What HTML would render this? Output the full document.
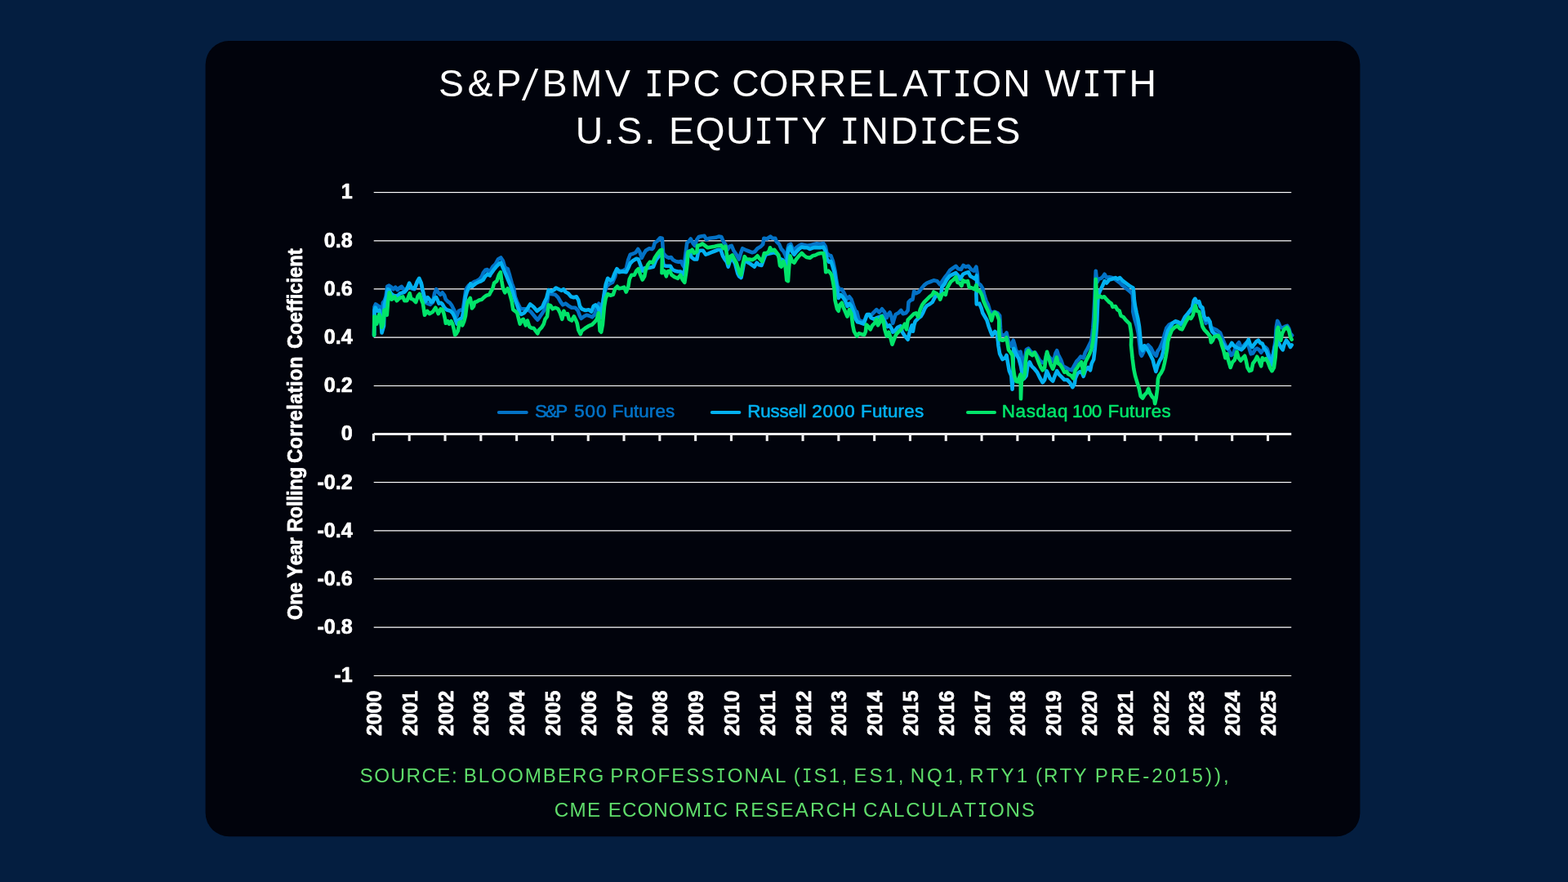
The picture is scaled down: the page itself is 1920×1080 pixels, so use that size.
<!DOCTYPE html>
<html lang="en">
<head>
<meta charset="utf-8">
<title>S&amp;P/BMV IPC Correlation with U.S. Equity Indices</title>
<style>
html,body{margin:0;padding:0;background:#041e40;}
body{width:1920px;height:1080px;overflow:hidden;position:relative;font-family:"Liberation Sans",sans-serif;}
svg{position:absolute;left:0;top:0;display:block;}
text{font-kerning:none;}
.title{font-family:"Liberation Sans",sans-serif;fill:#fff;}
.src{font-family:"Liberation Sans",sans-serif;fill:#5fdc6b;}
.ylab{font-family:"Liberation Sans",sans-serif;font-weight:700;font-size:25.2px;fill:#fff;text-anchor:end;stroke:#fff;stroke-width:0.7px;stroke-linejoin:round;}
.xlab{font-family:"Liberation Sans",sans-serif;font-weight:700;font-size:25.7px;fill:#fff;stroke:#fff;stroke-width:0.7px;stroke-linejoin:round;}
.ytitle{font-family:"Liberation Sans",sans-serif;font-weight:700;font-size:26.2px;fill:#fff;stroke:#fff;stroke-width:0.7px;stroke-linejoin:round;}
.leg{font-family:"Liberation Sans",sans-serif;font-weight:400;stroke-width:0.6px;stroke-linejoin:round;}
.ser{fill:none;stroke-width:4.6;stroke-linejoin:round;stroke-linecap:round;}
</style>
</head>
<body>
<svg width="1920" height="1080" viewBox="0 0 1920 1080">
<rect x="251.6" y="50.1" width="1413.8" height="974.2" rx="29" ry="29" fill="#01030c"/>

<text class="title" font-size="46.3" x="537.07 572.43 607.41 636.90 663.68 698.64 741.03 775.64 788.92 815.36 848.39 882.91 896.29 929.50 966.81 1002.66 1038.65 1073.72 1105.36 1135.87 1166.22 1190.35 1228.27 1263.14 1279.15 1324.97 1350.67 1382.45" y="118.20 118.20 118.20 122.76 118.20 118.20 118.20 118.20 118.20 118.20 118.20 118.20 118.20 118.20 118.20 118.20 118.20 118.20 118.20 118.20 118.20 118.20 118.20 118.20 118.20 118.20 118.20 118.20">S&amp;P<tspan font-size="55.15" textLength="24.10" lengthAdjust="spacingAndGlyphs" stroke="#01030c" stroke-width="1.8">/</tspan>BMV <tspan font-family="Liberation Mono" font-size="48.36" textLength="23.85" lengthAdjust="spacingAndGlyphs">I</tspan>PC CORRELAT<tspan font-family="Liberation Mono" font-size="48.36" textLength="23.85" lengthAdjust="spacingAndGlyphs">I</tspan>ON W<tspan font-family="Liberation Mono" font-size="48.36" textLength="23.85" lengthAdjust="spacingAndGlyphs">I</tspan>TH</text>
<text class="title" font-size="46.3" x="704.76 739.59 755.37 789.17 804.36 819.05 851.60 888.88 923.29 949.20 981.61 1015.01 1028.52 1054.52 1090.39 1125.79 1150.09 1184.48 1218.55" y="175.80 175.80 175.80 175.80 175.80 175.80 175.80 175.80 175.80 175.80 175.80 175.80 175.80 175.80 175.80 175.80 175.80 175.80 175.80">U.S. EQU<tspan font-family="Liberation Mono" font-size="48.36" textLength="23.85" lengthAdjust="spacingAndGlyphs">I</tspan>TY <tspan font-family="Liberation Mono" font-size="48.36" textLength="23.85" lengthAdjust="spacingAndGlyphs">I</tspan>ND<tspan font-family="Liberation Mono" font-size="48.36" textLength="23.85" lengthAdjust="spacingAndGlyphs">I</tspan>CES</text>
<g fill="#ffffff">
<rect x="457.7" y="235" width="1123.55" height="1" fill-opacity="1.0"/>
<rect x="457.7" y="236" width="1123.55" height="1" fill-opacity="0.17"/>
<rect x="457.7" y="294" width="1123.55" height="1" fill-opacity="0.77"/>
<rect x="457.7" y="295" width="1123.55" height="1" fill-opacity="0.48"/>
<rect x="457.7" y="353" width="1123.55" height="1" fill-opacity="0.77"/>
<rect x="457.7" y="354" width="1123.55" height="1" fill-opacity="0.48"/>
<rect x="457.7" y="412" width="1123.55" height="1" fill-opacity="0.48"/>
<rect x="457.7" y="413" width="1123.55" height="1" fill-opacity="0.77"/>
<rect x="457.7" y="471" width="1123.55" height="1" fill-opacity="0.1"/>
<rect x="457.7" y="472" width="1123.55" height="1" fill-opacity="1.0"/>
<rect x="457.7" y="590" width="1123.55" height="1" fill-opacity="1.0"/>
<rect x="457.7" y="591" width="1123.55" height="1" fill-opacity="0.17"/>
<rect x="457.7" y="649" width="1123.55" height="1" fill-opacity="0.77"/>
<rect x="457.7" y="650" width="1123.55" height="1" fill-opacity="0.48"/>
<rect x="457.7" y="708" width="1123.55" height="1" fill-opacity="0.77"/>
<rect x="457.7" y="709" width="1123.55" height="1" fill-opacity="0.48"/>
<rect x="457.7" y="767" width="1123.55" height="1" fill-opacity="0.48"/>
<rect x="457.7" y="768" width="1123.55" height="1" fill-opacity="0.77"/>
<rect x="457.7" y="826" width="1123.55" height="1" fill-opacity="0.1"/>
<rect x="457.7" y="827" width="1123.55" height="1" fill-opacity="1.0"/>
</g>
<g class="ylab">
<text transform="translate(431.6 243.4) scale(0.995 1)">1</text>
<text transform="translate(431.6 302.6) scale(0.995 1)">0.8</text>
<text transform="translate(431.6 361.8) scale(0.995 1)">0.6</text>
<text transform="translate(431.6 421.0) scale(0.995 1)">0.4</text>
<text transform="translate(431.6 480.2) scale(0.995 1)">0.2</text>
<text transform="translate(431.6 539.4) scale(0.995 1)">0</text>
<text transform="translate(431.6 598.5) scale(0.995 1)">-0.2</text>
<text transform="translate(431.6 657.7) scale(0.995 1)">-0.4</text>
<text transform="translate(431.6 716.9) scale(0.995 1)">-0.6</text>
<text transform="translate(431.6 776.1) scale(0.995 1)">-0.8</text>
<text transform="translate(431.6 835.3) scale(0.995 1)">-1</text>
</g>
<text class="ytitle" transform="translate(370 1000) rotate(-90) scale(0.9050 1)" font-size="26.2" x="266.16 286.53 302.51 316.45 323.14 339.94 353.83 367.71 377.86 385.15 403.95 419.83 426.99 434.15 441.30 457.19 472.14 478.43 497.79 514.23 524.86 535.50 550.51 558.23 573.24 582.40 590.12 606.56 624.23 633.23 652.15 668.15 682.71 691.43 700.15 707.42 721.99 729.26 743.83 759.83">One Year Rolling Correlation Coefficient</text>
<polyline class="ser" stroke="#0372c6" points="458.1,410.5 458.5,375.8 460.0,372.5 462.5,374.2 465.0,375.8 466.7,380.0 467.7,400.8 468.8,370.8 470.8,368.3 472.5,363.3 474.2,350.8 476.2,349.6 479.2,351.7 481.7,354.2 484.2,351.7 486.7,355.0 489.2,352.5 491.7,350.8 494.2,354.2 496.7,354.2 499.2,352.5 501.2,347.5 504.2,353.3 507.5,354.2 510.8,345.8 513.3,341.7 515.8,347.5 517.5,355.8 519.2,362.5 520.8,370.0 523.3,371.7 526.7,372.9 530.0,370.0 532.1,359.2 534.2,354.2 536.7,358.3 539.2,360.8 541.7,358.3 544.2,361.7 545.8,366.7 548.3,369.2 550.8,370.8 553.3,374.2 555.8,379.2 557.5,383.3 559.2,387.5 561.7,380.8 565.0,379.2 566.7,380.0 569.2,363.3 570.4,355.0 571.7,352.5 574.2,349.2 578.3,346.7 580.8,345.0 583.3,344.2 587.5,341.7 590.0,338.3 591.7,334.2 594.2,330.8 596.7,330.0 596.7,331.7 600.0,332.5 603.3,326.7 606.7,323.3 610.0,317.5 613.3,315.4 615.8,319.2 618.3,327.5 621.7,329.2 624.2,337.5 626.7,346.7 629.2,353.3 630.8,363.3 633.3,370.0 634.2,371.7 637.5,378.3 641.7,378.3 645.0,378.3 650.0,381.7 653.3,385.8 656.7,390.0 658.3,391.7 660.8,388.3 664.2,383.3 667.5,378.3 670.0,370.0 671.7,358.3 675.0,360.0 680.0,360.8 683.3,364.2 686.7,370.0 689.2,373.3 692.5,371.7 695.8,374.2 700.0,376.7 704.2,376.7 707.5,380.0 710.0,386.7 711.7,390.0 715.0,387.5 718.3,385.8 721.7,386.7 725.0,388.3 728.3,385.0 730.8,376.7 733.3,371.7 735.0,383.3 736.2,388.3 737.9,371.7 740.8,356.7 743.3,350.0 746.7,347.5 750.0,345.8 753.3,338.3 755.0,330.0 758.3,331.7 762.5,331.7 766.7,329.2 769.2,318.3 771.7,311.7 775.0,310.8 778.3,309.2 781.2,305.0 783.3,308.3 785.8,315.8 788.3,310.8 790.8,306.7 795.0,304.2 798.3,305.0 800.0,303.3 801.7,297.5 805.0,295.0 808.3,291.2 810.8,291.7 812.1,310.0 815.8,314.2 819.2,315.8 821.7,315.0 824.2,318.3 827.5,320.0 830.8,320.8 834.2,320.0 835.8,324.2 837.5,326.7 839.6,310.0 841.2,297.5 843.3,295.8 845.8,292.5 848.3,297.5 850.8,300.8 853.3,293.3 855.8,290.0 859.2,289.2 862.5,288.8 865.0,293.3 868.3,291.7 872.5,291.2 876.7,290.8 880.0,289.6 883.3,290.0 885.8,295.8 888.3,299.2 890.8,305.8 893.3,301.7 895.8,300.8 898.3,306.7 901.7,311.7 902.5,313.3 905.0,317.5 907.1,310.0 909.2,304.2 912.5,305.8 916.7,307.5 920.8,309.2 924.2,308.3 927.5,304.2 931.7,301.7 934.2,299.2 935.4,291.7 939.2,292.5 943.3,289.6 945.8,291.7 949.2,291.7 950.8,295.8 954.2,299.2 956.7,305.0 959.2,307.5 961.7,312.5 963.3,318.3 964.6,304.2 965.8,300.0 968.3,298.8 970.0,303.3 972.5,305.8 975.0,303.3 978.3,300.8 981.7,299.2 985.0,300.0 988.3,300.8 991.7,300.4 995.8,299.2 1000.0,298.3 1004.2,298.8 1008.3,297.9 1010.8,301.7 1012.5,310.0 1015.0,312.5 1017.5,313.3 1020.0,320.0 1022.5,331.7 1024.2,343.3 1025.8,351.7 1026.7,351.7 1027.5,355.0 1030.8,354.2 1033.3,358.3 1035.8,363.3 1037.5,365.8 1040.0,363.3 1042.5,366.7 1045.0,374.2 1047.5,380.8 1049.2,381.7 1051.7,391.7 1055.0,393.3 1058.3,393.3 1060.8,386.7 1064.2,385.0 1066.7,385.8 1070.0,382.5 1073.3,379.2 1076.7,382.5 1080.0,378.3 1083.3,382.5 1085.8,389.2 1087.5,385.0 1089.6,382.5 1091.7,388.3 1093.3,395.8 1095.0,390.0 1096.7,385.0 1100.0,383.3 1103.3,380.0 1105.8,384.2 1109.2,383.3 1111.7,380.0 1112.5,370.0 1115.0,367.5 1117.5,366.7 1119.2,356.7 1121.7,359.2 1125.0,357.5 1128.3,353.3 1131.7,349.2 1135.0,346.7 1139.2,345.0 1143.3,343.3 1147.5,344.2 1150.8,348.3 1153.3,346.7 1153.3,345.0 1156.7,340.0 1160.0,335.8 1163.3,330.8 1166.7,328.3 1170.4,325.8 1173.3,329.2 1176.7,330.0 1179.6,325.0 1182.5,326.7 1185.8,325.8 1189.2,330.0 1192.5,331.7 1195.4,326.7 1196.7,335.0 1197.5,346.7 1200.8,349.2 1203.3,353.3 1205.4,361.7 1207.5,368.3 1210.0,373.3 1211.7,379.2 1214.2,384.2 1217.5,381.7 1221.7,383.3 1224.2,386.7 1225.0,401.7 1225.8,410.0 1228.3,410.8 1230.8,410.0 1232.5,407.5 1234.2,415.0 1235.8,422.5 1238.3,424.2 1239.6,419.2 1240.8,416.7 1242.5,422.5 1244.2,429.2 1247.5,432.5 1249.6,430.8 1251.2,439.2 1253.3,451.7 1255.0,439.2 1256.7,428.3 1259.2,426.7 1261.7,430.0 1265.0,432.5 1267.5,431.7 1270.0,435.8 1273.3,441.7 1276.7,444.2 1279.2,443.3 1281.7,433.3 1284.2,436.7 1286.7,439.2 1290.0,442.5 1292.5,432.5 1294.2,429.2 1295.8,434.2 1299.2,440.8 1301.7,448.3 1305.0,450.0 1309.2,452.5 1312.5,453.3 1315.0,448.3 1318.3,442.5 1320.8,440.0 1323.3,436.7 1326.7,438.3 1328.8,431.7 1331.7,426.7 1333.3,423.3 1335.8,418.3 1337.1,412.5 1338.3,401.7 1339.2,389.2 1340.4,366.7 1341.2,345.8 1341.8,331.7 1343.3,345.8 1345.4,341.7 1348.3,340.8 1350.8,338.3 1352.5,335.8 1355.0,340.0 1358.3,339.2 1361.7,340.0 1365.0,341.7 1368.3,344.2 1371.7,346.7 1375.0,350.0 1379.2,353.3 1383.3,356.7 1386.7,360.0 1387.5,370.8 1387.3,381.7 1389.6,391.7 1392.1,400.0 1393.8,408.3 1395.4,422.5 1396.7,433.3 1397.9,435.8 1400.0,431.7 1402.5,425.0 1405.8,422.5 1409.2,425.8 1411.7,430.8 1414.2,434.2 1415.8,435.8 1417.5,430.0 1420.0,426.7 1422.5,420.8 1424.2,416.7 1425.8,410.0 1428.3,401.7 1431.7,397.5 1435.0,395.8 1438.3,394.2 1442.5,395.0 1445.8,397.5 1448.3,394.2 1450.8,389.2 1454.2,385.0 1457.5,380.8 1460.0,377.5 1461.7,370.0 1463.3,367.5 1465.8,370.8 1468.3,370.8 1470.0,375.8 1472.5,378.3 1474.2,388.3 1476.7,395.8 1479.2,391.7 1481.7,395.8 1482.5,400.0 1485.8,402.5 1490.0,404.2 1494.2,407.5 1496.7,414.2 1499.2,420.0 1501.7,425.0 1505.0,429.2 1507.5,435.0 1510.0,433.3 1512.5,426.7 1515.0,421.7 1517.1,419.2 1519.2,424.2 1521.7,425.0 1524.2,421.7 1526.7,419.2 1529.2,425.0 1531.7,433.3 1534.2,432.5 1536.7,428.3 1539.2,426.7 1541.7,428.3 1544.2,431.7 1546.7,428.3 1549.2,425.0 1551.7,427.5 1554.2,435.0 1556.7,443.3 1559.2,433.3 1561.7,416.7 1562.9,400.0 1564.2,392.9 1565.8,395.8 1567.5,400.0 1570.0,401.7 1573.3,400.0 1576.2,398.8 1578.3,402.5 1580.0,408.3 1582.1,410.8"/>
<polyline class="ser" stroke="#03b1f1" points="458.1,410.5 458.5,380.0 459.6,376.7 462.5,380.8 464.6,380.0 466.2,388.3 467.5,407.5 470.0,399.2 470.8,373.3 473.3,363.3 475.0,354.2 476.7,355.0 478.8,359.2 481.7,361.7 485.0,362.5 487.5,361.7 490.0,359.2 493.3,358.3 495.4,357.5 498.3,354.2 501.2,346.7 504.2,352.5 507.5,353.3 510.8,345.0 513.3,340.8 515.8,346.7 517.5,355.0 519.2,361.7 520.8,369.2 523.8,364.2 525.8,366.7 528.3,370.0 530.0,369.2 532.1,365.0 534.2,364.2 535.8,367.5 537.5,371.7 540.0,370.8 541.7,372.5 544.2,376.7 546.7,379.2 549.2,380.0 551.7,380.8 554.2,383.3 556.7,388.3 558.3,393.3 559.6,396.7 561.7,391.7 565.8,389.2 568.3,376.7 570.0,363.3 571.7,357.5 574.2,351.7 576.2,347.5 578.3,350.8 580.0,349.2 583.3,346.7 586.7,345.0 589.2,344.2 591.7,342.5 594.2,338.3 596.7,335.8 600.0,337.5 600.0,336.7 604.2,330.8 608.3,325.8 611.7,322.5 613.3,321.7 615.8,327.5 618.3,333.3 621.7,341.7 625.0,349.2 627.5,356.7 630.0,365.0 632.5,371.7 634.2,376.7 636.7,383.3 638.3,385.0 641.7,383.3 645.0,379.2 649.2,372.5 653.3,375.8 657.5,380.8 660.8,378.3 664.2,375.8 666.7,370.0 669.2,365.0 671.7,355.0 675.0,356.7 678.3,355.0 680.8,352.5 684.2,354.2 687.5,355.8 690.0,354.2 692.5,357.5 695.8,359.2 699.2,363.3 702.5,364.2 705.8,363.3 708.3,367.5 710.0,375.0 712.5,378.3 716.7,380.0 720.8,379.2 724.2,381.7 726.7,375.0 729.2,373.3 732.5,376.7 734.6,383.3 735.8,389.2 737.5,375.0 740.0,358.3 741.7,348.3 744.2,340.8 747.5,343.3 750.0,341.7 752.5,335.0 755.4,329.2 758.3,333.3 762.5,332.5 766.7,333.3 769.2,328.3 771.7,322.5 775.0,319.2 779.2,316.7 781.7,317.5 784.2,324.2 786.7,331.7 789.2,328.3 793.3,328.3 796.7,327.5 800.0,326.7 803.3,318.3 808.3,311.7 810.8,312.5 812.5,325.0 815.8,325.8 820.8,325.8 823.3,330.0 826.7,331.7 830.0,332.5 833.3,332.5 835.8,335.0 837.5,336.7 839.6,322.5 841.7,310.0 844.2,307.5 846.7,315.0 850.0,317.5 853.3,317.5 855.0,308.3 857.5,306.7 860.8,306.7 864.2,311.7 866.7,310.8 870.8,309.2 875.0,307.5 879.2,305.8 882.5,305.8 885.0,313.3 887.5,317.5 890.0,320.8 891.7,326.7 894.2,318.3 896.7,316.7 900.0,322.5 903.3,335.0 905.0,338.3 907.5,340.0 909.2,331.7 911.7,318.3 915.0,320.8 919.2,323.3 923.8,326.7 926.7,321.7 929.2,324.2 932.5,325.0 935.0,318.3 937.5,311.7 940.8,310.8 944.2,310.0 947.5,309.2 951.7,310.8 955.0,316.7 958.3,318.3 961.7,321.7 963.3,328.3 964.6,310.0 965.8,304.2 967.9,301.7 970.0,308.3 972.5,311.7 975.0,308.3 978.3,305.0 981.7,302.5 985.0,303.3 988.3,303.3 991.7,305.0 995.8,303.3 1000.0,302.9 1004.2,303.3 1008.3,302.5 1010.4,306.7 1012.5,316.7 1015.0,320.8 1017.5,320.0 1019.2,325.0 1021.7,333.3 1023.3,343.3 1025.0,353.3 1025.8,359.2 1026.7,365.0 1029.2,360.8 1031.7,363.3 1035.0,368.3 1037.5,375.0 1040.0,371.7 1042.5,375.0 1045.0,381.7 1047.5,390.0 1050.0,394.2 1053.3,395.0 1057.5,396.7 1060.0,390.0 1061.7,385.0 1064.2,385.0 1066.7,389.2 1070.0,390.8 1073.3,389.2 1076.7,388.3 1080.0,386.7 1083.3,393.3 1086.7,400.0 1089.2,398.3 1091.7,402.5 1093.3,406.7 1095.8,405.0 1099.2,400.8 1102.5,399.2 1105.0,406.7 1107.5,410.8 1111.7,415.8 1114.2,405.0 1116.7,398.3 1117.9,405.8 1119.2,398.3 1120.8,393.3 1124.2,390.0 1127.5,387.5 1130.0,383.3 1132.5,377.5 1135.0,374.2 1138.3,372.5 1141.7,370.0 1144.2,365.0 1146.7,361.2 1150.0,363.3 1152.5,360.0 1153.3,351.7 1156.7,347.5 1159.2,342.5 1162.5,338.3 1166.7,335.8 1170.4,334.2 1173.3,337.5 1175.8,341.7 1179.2,335.8 1182.5,334.2 1185.8,333.3 1188.3,338.3 1191.7,340.0 1194.2,341.7 1195.8,337.5 1196.2,347.5 1195.4,360.0 1195.8,372.5 1199.2,371.7 1201.7,377.5 1203.3,383.3 1205.8,387.5 1208.3,391.7 1210.8,400.0 1213.3,406.7 1215.0,410.8 1218.3,405.8 1220.8,409.2 1222.1,418.3 1222.5,423.3 1224.2,433.3 1227.5,440.0 1230.8,438.3 1232.5,435.0 1234.2,445.0 1235.8,454.2 1238.3,460.0 1239.6,476.7 1240.4,460.0 1240.8,436.7 1241.2,426.7 1244.2,433.3 1247.5,439.2 1250.0,448.3 1251.7,457.5 1254.2,463.3 1256.7,460.0 1258.3,448.3 1260.8,443.3 1263.3,448.3 1266.7,451.7 1270.0,455.8 1273.3,462.5 1276.7,468.3 1279.2,465.0 1281.7,454.2 1283.3,457.5 1285.8,463.3 1289.2,466.7 1291.7,460.0 1294.2,454.2 1296.7,458.3 1300.0,461.7 1303.3,465.0 1306.7,465.0 1310.0,468.3 1313.3,474.2 1315.8,470.0 1316.7,463.3 1319.2,457.5 1322.5,455.0 1325.0,456.7 1326.7,460.8 1329.2,453.3 1332.5,450.0 1335.0,453.3 1336.7,445.0 1339.2,440.0 1340.8,426.7 1342.1,410.0 1343.3,393.3 1343.8,379.2 1344.6,362.5 1346.7,356.7 1350.0,350.0 1352.5,344.2 1355.0,346.7 1358.3,342.5 1361.7,341.7 1365.8,340.0 1368.3,341.7 1371.2,340.0 1374.2,343.3 1377.5,345.8 1380.8,348.3 1384.2,350.8 1387.5,352.5 1388.3,358.3 1388.8,366.7 1390.0,375.0 1391.7,383.3 1393.3,390.0 1395.0,400.0 1395.8,408.3 1396.7,418.3 1397.5,426.7 1399.2,429.2 1401.2,423.3 1404.2,426.7 1406.7,430.8 1409.2,435.8 1411.7,440.8 1413.3,447.5 1415.4,455.0 1417.5,447.5 1420.0,441.7 1422.5,437.5 1424.2,430.8 1425.8,422.5 1427.5,414.2 1430.0,405.0 1433.3,400.0 1435.8,395.8 1439.2,393.3 1442.5,394.2 1445.8,396.7 1448.3,393.3 1450.8,388.3 1454.2,384.2 1457.5,380.0 1460.0,376.7 1461.7,368.3 1463.3,365.8 1465.8,370.0 1468.3,369.2 1470.0,375.0 1472.5,376.7 1474.2,386.7 1476.7,391.7 1479.2,390.0 1481.7,394.2 1482.5,400.8 1484.2,405.8 1486.7,408.3 1490.8,410.8 1494.2,415.8 1496.7,420.0 1500.0,425.0 1503.3,426.7 1505.8,424.2 1508.3,420.0 1510.8,423.3 1513.3,425.0 1516.7,426.7 1520.0,428.3 1523.3,425.0 1526.7,420.0 1528.8,415.8 1530.8,421.7 1533.3,425.0 1535.8,421.7 1538.3,418.3 1540.8,416.7 1543.3,420.0 1545.8,420.8 1548.3,426.7 1550.8,430.0 1553.3,436.7 1555.8,441.7 1557.1,446.7 1559.2,433.3 1560.8,425.0 1564.2,416.7 1566.7,421.7 1568.3,425.0 1570.8,428.3 1572.5,421.7 1575.0,416.7 1577.5,420.0 1580.0,425.0 1581.7,422.5"/>
<polyline class="ser" stroke="#02e46a" points="458.1,410.5 458.3,387.5 460.0,388.3 461.2,396.7 462.5,391.7 464.2,385.0 465.8,390.0 467.5,400.8 469.2,396.7 470.4,380.0 472.1,379.2 473.8,385.8 475.0,370.0 476.7,358.3 478.8,363.3 479.6,366.7 482.1,365.0 483.3,363.3 485.8,368.3 488.3,365.8 490.8,364.2 493.3,363.3 495.4,368.3 498.3,368.3 501.7,359.2 503.3,365.8 505.8,366.7 509.2,370.0 511.7,362.5 513.8,360.0 515.8,366.7 517.9,371.7 520.0,385.8 523.3,380.8 525.8,384.2 530.0,381.7 533.3,376.7 535.0,380.0 536.7,384.2 539.6,378.3 541.7,379.2 543.3,383.3 545.0,390.8 545.8,395.8 548.3,393.3 550.0,396.7 552.5,393.3 554.2,396.7 555.8,403.3 557.1,410.0 558.3,409.2 560.8,405.0 562.5,395.0 564.6,394.2 566.2,398.3 568.3,393.3 570.0,386.7 571.2,376.7 572.5,370.0 575.8,365.0 577.1,371.7 577.9,377.5 580.0,375.0 581.2,370.0 584.2,369.2 586.7,367.5 590.0,366.7 592.5,364.2 595.8,361.7 599.2,360.8 600.8,357.5 603.3,353.3 605.0,346.7 608.3,344.2 610.8,336.7 612.9,333.3 614.2,343.3 615.8,352.5 618.3,358.3 621.7,353.3 624.2,360.0 626.7,369.2 628.3,379.2 631.7,381.7 633.3,383.3 635.4,391.7 636.7,396.7 639.2,391.7 640.8,390.8 643.8,398.3 645.8,392.5 648.3,400.0 650.8,401.7 653.3,401.7 655.8,405.0 658.3,408.3 660.0,404.2 663.3,400.8 665.8,396.7 667.5,390.8 670.0,387.5 671.7,373.3 674.2,374.2 676.7,378.3 680.0,376.7 683.3,378.3 685.8,383.3 688.3,390.8 690.4,380.8 692.5,385.0 695.0,384.2 696.7,390.8 700.0,392.5 702.9,387.5 705.0,391.7 706.7,395.8 708.3,404.2 710.8,409.2 712.5,405.0 716.7,401.7 720.8,399.2 725.0,397.5 728.3,394.2 730.8,390.8 732.9,383.3 734.6,405.0 736.2,406.7 737.9,397.5 740.0,375.0 741.7,365.0 744.2,360.0 747.5,361.7 750.8,360.8 753.3,353.3 755.8,350.8 758.3,353.3 761.7,352.5 764.2,351.7 766.7,357.5 769.2,351.7 770.8,341.7 773.3,336.7 776.7,336.7 779.2,331.7 781.7,329.2 784.2,336.7 786.7,342.5 789.2,338.3 790.8,330.0 793.3,324.2 795.8,320.8 799.2,321.7 801.7,315.8 805.0,310.8 808.3,306.7 810.4,305.8 810.8,318.3 810.4,334.2 813.3,331.7 815.8,338.3 817.5,332.5 820.0,331.7 822.5,336.7 825.8,339.2 830.0,340.8 833.3,336.7 835.8,342.5 838.3,345.8 840.0,335.0 841.7,321.7 842.5,308.3 845.0,308.3 847.5,305.8 850.0,310.0 853.3,308.3 854.2,300.8 857.5,300.0 860.0,298.3 863.3,300.8 866.7,303.3 870.8,302.5 875.0,301.7 879.2,300.8 883.3,300.4 885.8,304.2 888.3,301.7 890.0,311.7 891.7,322.5 894.2,314.2 896.7,312.5 899.2,317.5 901.7,321.7 903.3,326.7 905.8,335.0 907.5,336.7 909.2,325.0 911.7,314.2 914.2,317.5 917.5,317.5 920.8,318.3 924.2,316.7 927.5,313.3 930.0,316.7 933.3,320.0 935.8,310.0 939.2,310.0 941.7,307.5 942.9,303.3 945.0,306.7 948.3,305.8 950.8,309.2 953.3,312.5 955.0,325.0 956.7,326.7 959.2,320.0 961.7,326.7 963.3,343.3 965.0,344.2 966.2,326.7 967.5,313.3 970.0,320.0 972.5,321.7 975.0,317.5 978.3,313.3 981.7,310.0 984.2,312.5 987.5,315.0 991.7,315.8 995.0,313.3 998.3,312.5 1001.7,310.8 1005.0,310.0 1008.3,310.0 1010.0,318.3 1011.2,333.3 1014.2,331.7 1016.7,334.2 1018.3,336.7 1020.0,345.0 1021.7,355.0 1022.5,367.5 1025.0,378.3 1026.7,380.8 1028.3,373.3 1030.8,370.8 1032.5,375.8 1035.0,381.7 1037.5,387.5 1040.0,379.2 1042.5,384.2 1044.2,398.3 1045.8,405.8 1049.2,411.7 1051.7,408.3 1055.0,409.2 1058.3,410.0 1060.0,405.8 1060.8,397.5 1063.3,400.0 1065.8,403.3 1068.3,398.3 1070.8,395.8 1073.3,390.8 1075.0,398.3 1077.5,394.2 1079.6,387.5 1081.7,393.3 1083.3,403.3 1085.8,411.7 1088.3,406.7 1090.8,415.0 1092.5,421.7 1095.0,415.0 1097.5,409.2 1100.0,406.7 1103.3,403.3 1105.8,400.0 1107.9,396.7 1110.0,403.3 1111.7,391.7 1114.2,389.2 1116.7,386.7 1119.2,384.2 1121.7,383.3 1124.2,388.3 1126.7,379.2 1129.2,373.3 1131.7,370.0 1135.0,366.7 1138.3,363.3 1141.7,360.8 1143.3,357.5 1146.7,359.2 1149.2,361.7 1151.2,366.7 1153.3,360.8 1155.8,359.2 1157.9,360.8 1159.6,353.3 1161.7,349.2 1164.2,345.0 1167.5,342.5 1170.4,339.2 1172.5,345.8 1175.0,346.7 1177.5,350.0 1179.2,343.3 1181.7,345.0 1185.0,344.2 1186.7,351.7 1190.0,352.5 1193.3,354.2 1195.4,349.2 1196.7,355.8 1200.0,356.7 1202.5,361.7 1204.2,368.3 1206.7,374.2 1209.2,379.2 1211.7,385.0 1214.2,392.5 1216.2,385.0 1218.3,382.5 1220.8,385.0 1223.3,391.7 1223.3,405.8 1224.2,415.8 1227.5,416.7 1230.8,415.8 1232.5,413.3 1233.8,421.7 1235.0,428.3 1237.5,431.7 1239.6,435.0 1240.4,447.5 1242.1,460.0 1244.2,466.7 1246.7,467.5 1248.3,461.7 1249.6,458.3 1250.0,488.3 1250.8,466.7 1253.3,463.3 1255.0,457.5 1255.8,443.3 1257.5,431.7 1259.2,429.2 1261.7,433.3 1264.2,435.0 1266.7,431.7 1269.2,436.7 1271.7,443.3 1274.2,449.2 1276.7,453.3 1279.2,450.0 1280.8,436.7 1282.1,430.8 1284.2,438.3 1286.7,446.7 1289.2,451.7 1291.7,445.0 1293.8,437.5 1295.8,445.0 1298.3,446.7 1300.8,450.8 1303.3,455.8 1305.8,455.0 1308.3,458.3 1311.7,460.0 1314.2,463.3 1316.7,453.3 1319.2,450.0 1321.7,445.8 1324.2,443.3 1326.7,457.5 1329.2,443.3 1331.7,438.3 1334.2,433.3 1336.7,426.7 1338.3,418.3 1339.6,405.8 1340.8,391.7 1341.2,366.7 1341.8,341.7 1342.5,354.2 1343.3,365.0 1346.7,362.5 1349.2,364.2 1352.1,363.3 1355.0,366.7 1358.3,370.0 1360.8,371.7 1362.5,375.8 1365.8,375.0 1368.3,379.2 1370.8,380.8 1372.5,386.7 1375.8,388.3 1378.3,391.7 1380.8,394.2 1383.3,396.7 1384.6,404.2 1385.4,410.0 1385.0,422.5 1386.7,439.2 1388.3,451.7 1390.0,460.0 1392.5,468.3 1395.0,476.7 1396.7,485.0 1399.2,487.5 1401.7,483.3 1404.2,480.8 1406.2,475.8 1408.3,481.7 1410.8,485.8 1413.3,488.3 1414.2,494.2 1415.8,486.7 1417.1,476.7 1417.9,464.2 1419.2,460.0 1421.7,456.7 1424.2,451.7 1425.8,445.0 1427.5,436.7 1429.2,426.7 1430.0,418.3 1431.7,412.5 1433.3,408.3 1435.0,404.2 1438.3,400.8 1441.7,399.2 1445.0,402.5 1447.5,403.3 1450.0,398.3 1452.5,393.3 1455.8,388.3 1458.3,390.0 1460.8,385.8 1462.5,378.3 1463.8,374.2 1465.8,380.8 1468.3,381.7 1470.0,389.2 1472.5,400.0 1475.0,404.2 1478.3,407.5 1481.7,411.7 1482.9,419.2 1485.0,416.7 1486.7,412.5 1489.2,411.7 1491.7,410.8 1494.2,415.0 1495.8,421.7 1498.3,429.2 1500.4,438.3 1502.5,433.3 1504.2,441.7 1506.7,450.0 1509.2,443.3 1511.7,440.8 1513.3,435.0 1514.6,430.8 1516.7,438.3 1519.2,441.7 1521.7,438.3 1524.2,435.8 1525.8,441.7 1527.5,450.0 1530.0,454.2 1532.5,453.3 1534.2,445.0 1536.7,441.7 1539.2,436.7 1541.7,441.7 1544.2,448.3 1545.8,438.3 1547.5,440.8 1550.0,439.2 1552.5,443.3 1555.0,450.0 1557.5,454.2 1560.0,450.0 1561.7,437.5 1562.9,420.8 1563.8,404.2 1565.0,400.8 1566.7,410.0 1568.3,416.7 1570.0,408.3 1572.5,403.3 1575.8,400.8 1578.3,405.0 1580.0,412.5 1581.7,415.8"/>
<g fill="#eeeeee">
<rect x="457.7" y="530" width="1123.55" height="3"/>
<rect x="455.85" y="531" width="3.1" height="9.1"/>
<rect x="499.65" y="531" width="3.1" height="9.1"/>
<rect x="543.46" y="531" width="3.1" height="9.1"/>
<rect x="587.26" y="531" width="3.1" height="9.1"/>
<rect x="631.07" y="531" width="3.1" height="9.1"/>
<rect x="674.87" y="531" width="3.1" height="9.1"/>
<rect x="718.67" y="531" width="3.1" height="9.1"/>
<rect x="762.48" y="531" width="3.1" height="9.1"/>
<rect x="806.28" y="531" width="3.1" height="9.1"/>
<rect x="850.09" y="531" width="3.1" height="9.1"/>
<rect x="893.89" y="531" width="3.1" height="9.1"/>
<rect x="937.69" y="531" width="3.1" height="9.1"/>
<rect x="981.50" y="531" width="3.1" height="9.1"/>
<rect x="1025.30" y="531" width="3.1" height="9.1"/>
<rect x="1069.11" y="531" width="3.1" height="9.1"/>
<rect x="1112.91" y="531" width="3.1" height="9.1"/>
<rect x="1156.71" y="531" width="3.1" height="9.1"/>
<rect x="1200.52" y="531" width="3.1" height="9.1"/>
<rect x="1244.32" y="531" width="3.1" height="9.1"/>
<rect x="1288.13" y="531" width="3.1" height="9.1"/>
<rect x="1331.93" y="531" width="3.1" height="9.1"/>
<rect x="1375.73" y="531" width="3.1" height="9.1"/>
<rect x="1419.54" y="531" width="3.1" height="9.1"/>
<rect x="1463.34" y="531" width="3.1" height="9.1"/>
<rect x="1507.15" y="531" width="3.1" height="9.1"/>
<rect x="1550.95" y="531" width="3.1" height="9.1"/>
</g>
<g class="xlab">
<text transform="translate(467.00 901.1) rotate(-90) scale(0.969 1)">2000</text>
<text transform="translate(510.80 901.1) rotate(-90) scale(0.969 1)">2001</text>
<text transform="translate(554.61 901.1) rotate(-90) scale(0.969 1)">2002</text>
<text transform="translate(598.41 901.1) rotate(-90) scale(0.969 1)">2003</text>
<text transform="translate(642.22 901.1) rotate(-90) scale(0.969 1)">2004</text>
<text transform="translate(686.02 901.1) rotate(-90) scale(0.969 1)">2005</text>
<text transform="translate(729.82 901.1) rotate(-90) scale(0.969 1)">2006</text>
<text transform="translate(773.63 901.1) rotate(-90) scale(0.969 1)">2007</text>
<text transform="translate(817.43 901.1) rotate(-90) scale(0.969 1)">2008</text>
<text transform="translate(861.24 901.1) rotate(-90) scale(0.969 1)">2009</text>
<text transform="translate(905.04 901.1) rotate(-90) scale(0.969 1)">2010</text>
<text transform="translate(948.84 901.1) rotate(-90) scale(0.969 1)">2011</text>
<text transform="translate(992.65 901.1) rotate(-90) scale(0.969 1)">2012</text>
<text transform="translate(1036.45 901.1) rotate(-90) scale(0.969 1)">2013</text>
<text transform="translate(1080.26 901.1) rotate(-90) scale(0.969 1)">2014</text>
<text transform="translate(1124.06 901.1) rotate(-90) scale(0.969 1)">2015</text>
<text transform="translate(1167.86 901.1) rotate(-90) scale(0.969 1)">2016</text>
<text transform="translate(1211.67 901.1) rotate(-90) scale(0.969 1)">2017</text>
<text transform="translate(1255.47 901.1) rotate(-90) scale(0.969 1)">2018</text>
<text transform="translate(1299.28 901.1) rotate(-90) scale(0.969 1)">2019</text>
<text transform="translate(1343.08 901.1) rotate(-90) scale(0.969 1)">2020</text>
<text transform="translate(1386.88 901.1) rotate(-90) scale(0.969 1)">2021</text>
<text transform="translate(1430.69 901.1) rotate(-90) scale(0.969 1)">2022</text>
<text transform="translate(1474.49 901.1) rotate(-90) scale(0.969 1)">2023</text>
<text transform="translate(1518.30 901.1) rotate(-90) scale(0.969 1)">2024</text>
<text transform="translate(1562.10 901.1) rotate(-90) scale(0.969 1)">2025</text>
</g>
<line x1="610.8" y1="505" x2="644.8" y2="505" stroke="#0372c6" stroke-width="4" stroke-linecap="round"/>
<text class="leg" font-size="22.4" x="654.88 667.61 680.34 696.08 703.15 716.59 730.02 742.96 749.71 763.47 776.01 782.31 794.84 802.38 814.91" y="511.1" fill="#0372c6" stroke="#0372c6">S&amp;P 500 Futures</text>
<line x1="871.8" y1="505" x2="905.4" y2="505" stroke="#03b1f1" stroke-width="4" stroke-linecap="round"/>
<text class="leg" font-size="22.4" x="915.36 931.31 943.54 954.52 965.49 977.72 982.47 987.67 994.17 1007.57 1020.97 1034.37 1047.31 1054.06 1067.93 1080.57 1086.98 1099.62 1107.27 1119.91" y="511.1" fill="#03b1f1" stroke="#03b1f1">Russell 2000 Futures</text>
<line x1="1185.0" y1="505" x2="1218.0" y2="505" stroke="#02e46a" stroke-width="4" stroke-linecap="round"/>
<text class="leg" font-size="22.4" x="1226.66 1243.54 1256.70 1268.60 1281.76 1294.92 1307.05 1312.99 1324.93 1336.87 1349.81 1356.56 1370.43 1383.07 1389.48 1402.12 1409.77 1422.41" y="511.1" fill="#02e46a" stroke="#02e46a">Nasdaq 100 Futures</text>
<text class="src" font-size="24.2" x="440.60 458.22 478.52 497.47 516.42 535.37 552.99 560.32 567.71 585.81 601.22 621.99 642.76 664.87 682.97 701.06 720.48 739.87 747.21 765.29 784.70 805.46 822.17 840.25 858.32 876.40 890.80 911.56 930.97 949.04 963.76 971.80 981.99 996.59 1014.86 1030.45 1037.96 1045.51 1064.45 1083.39 1099.65 1107.16 1114.71 1135.02 1156.67 1172.95 1180.06 1187.21 1207.73 1225.55 1244.72 1259.70 1268.00 1278.08 1297.58 1314.39 1332.24 1340.71 1359.80 1380.23 1399.31 1410.32 1426.72 1443.13 1459.53 1475.94 1486.95 1497.95" y="958.2">SOURCE: BLOOMBERG PROFESS<tspan font-family="Liberation Mono" font-size="25.28" textLength="12.47" lengthAdjust="spacingAndGlyphs">I</tspan>ONAL (<tspan font-family="Liberation Mono" font-size="25.28" textLength="12.47" lengthAdjust="spacingAndGlyphs">I</tspan>S1, ES1, NQ1, RTY1 (RTY PRE-2015)),</text>
<text class="src" font-size="24.2" x="678.77 697.59 719.10 736.59 744.71 761.91 780.44 800.31 818.84 838.72 859.93 873.45 891.93 899.71 919.23 937.41 955.60 973.78 991.96 1011.48 1031.00 1049.38 1057.07 1076.23 1094.06 1109.20 1128.36 1147.52 1162.66 1180.49 1196.95 1211.10 1231.61 1250.77" y="1000.2">CME ECONOM<tspan font-family="Liberation Mono" font-size="25.28" textLength="12.47" lengthAdjust="spacingAndGlyphs">I</tspan>C RESEARCH CALCULAT<tspan font-family="Liberation Mono" font-size="25.28" textLength="12.47" lengthAdjust="spacingAndGlyphs">I</tspan>ONS</text>
</svg>
</body>
</html>
